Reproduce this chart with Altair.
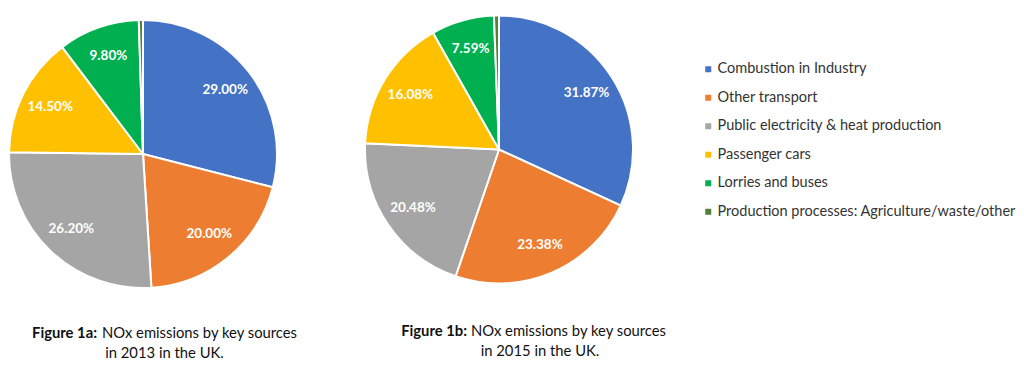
import altair as alt
import pandas as pd

categories = [
    "Combustion in Industry",
    "Other transport",
    "Public electricity & heat production",
    "Passenger cars",
    "Lorries and buses",
    "Production processes: Agriculture/waste/other",
]
values_2013 = [29.00, 20.00, 26.20, 14.50, 9.80, 0.50]
values_2015 = [31.87, 23.38, 20.48, 16.08, 7.59, 0.60]
colors = ["#4472C4", "#ED7D31", "#A5A5A5", "#FFC000", "#00B050", "#548235"]

cap_bold = ["Figure 1a:", "Figure 1b:"]
cap_line1 = ["NOx emissions by key sources", "NOx emissions by key sources"]
cap_line2 = ["in 2013 in the UK.", "in 2015 in the UK."]

rows = []
for yr, vals in (("2013", values_2013), ("2015", values_2015)):
    for i, (c, v) in enumerate(zip(categories, vals)):
        rows.append({"year": yr, "category": c, "value": v, "order": i})
df = pd.DataFrame(rows)

FONT = "Lato"
R = 134
centers = {"2013": (135, 146), "2015": (491, 141.5)}

color = alt.Color(
    "category:N",
    scale=alt.Scale(domain=categories, range=colors),
    sort=categories,
    legend=alt.Legend(
        title=None,
        orient="none",
        legendX=693,
        legendY=54,
        symbolType="square",
        symbolSize=36,
        symbolStrokeWidth=0,
        labelFont=FONT,
        labelFontSize=14.5,
        labelColor="#333333",
        rowPadding=13.5,
        labelOffset=2,
        padding=0,
        labelLimit=400,
    ),
)

base = alt.Chart(df)
layers = []
for yr in ("2013", "2015"):
    cx, cy = centers[yr]
    b = base.transform_filter(alt.datum.year == yr)
    arc = b.mark_arc(radius=R, stroke="white", strokeWidth=2).encode(
        theta=alt.Theta("value:Q", stack=True),
        order=alt.Order("order:Q"),
        color=color,
        x=alt.value(cx),
        y=alt.value(cy),
    )
    txt = b.transform_calculate(
        label="format(datum.value, '.2f') + '%'"
    ).mark_text(
        radius=104, font=FONT, fontSize=13.5, fontWeight="bold", color="white"
    ).encode(
        theta=alt.Theta("value:Q", stack=True),
        order=alt.Order("order:Q"),
        text=alt.condition(alt.datum.value > 2, "label:N", alt.value("")),
        x=alt.value(cx),
        y=alt.value(cy),
    )
    layers += [arc, txt]

# captions
cap_pos = [
    {"bx": 89, "nx": 94, "y1": 326, "cx": 156.5, "y2": 346},
    {"bx": 459, "nx": 463, "y1": 324, "cx": 532, "y2": 344},
]
one = pd.DataFrame({"k": [0]})
CFS = 14.8
for i in range(2):
    p = cap_pos[i]
    layers.append(
        alt.Chart(one).mark_text(
            text=cap_bold[i], font=FONT, fontSize=CFS, fontWeight="bold",
            align="right", baseline="middle", color="#111111"
        ).encode(x=alt.value(p["bx"]), y=alt.value(p["y1"]))
    )
    layers.append(
        alt.Chart(one).mark_text(
            text=cap_line1[i], font=FONT, fontSize=CFS,
            align="left", baseline="middle", color="#111111"
        ).encode(x=alt.value(p["nx"]), y=alt.value(p["y1"]))
    )
    layers.append(
        alt.Chart(one).mark_text(
            text=cap_line2[i], font=FONT, fontSize=CFS,
            align="center", baseline="middle", color="#111111"
        ).encode(x=alt.value(p["cx"]), y=alt.value(p["y2"]))
    )

chart = alt.layer(*layers).properties(
    width=1008, height=361, autosize=alt.AutoSizeParams(type="none"), padding=0
).configure_view(stroke=None)

chart.save("out.html", embed_options={"renderer": "svg", "actions": False})
